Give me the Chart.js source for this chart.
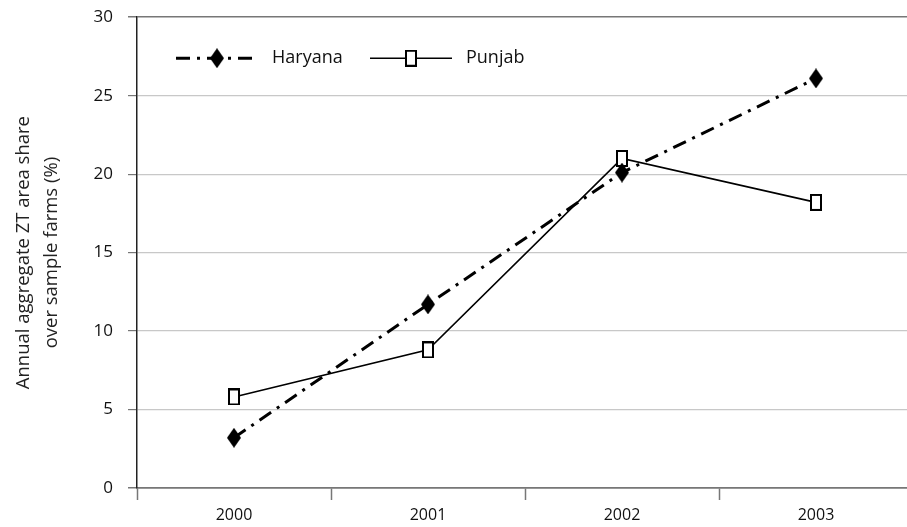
<!DOCTYPE html>
<html>
<head>
<meta charset="utf-8">
<script src="https://cdn.jsdelivr.net/npm/chart.js@4.4.1/dist/chart.umd.min.js"></script>
<style>
  html, body { margin: 0; padding: 0; background: #fff; overflow: hidden; }
  #wrap { width: 920px; height: 535px; margin-top: -8px; }
</style>
</head>
<body>
<div id="wrap"><canvas id="ztChart" width="920" height="535"></canvas></div>
<script>
// data
const years = ['2000', '2001', '2002', '2003'];
const haryana = [3.2, 11.7, 20.1, 26.1];
const punjab = [5.8, 8.8, 21.0, 18.2];
const yTicks = [0, 5, 10, 15, 20, 25, 30];

const FONT = '"Open Sans", "Noto Sans", sans-serif';

// marker images
function makeDiamond(w, h) {
    const c = document.createElement('canvas');
    c.width = w; c.height = h;
    const g = c.getContext('2d');
    g.fillStyle = '#000';
    g.beginPath();
    g.moveTo(w / 2, 0);
    g.lineTo(w, h / 2);
    g.lineTo(w / 2, h);
    g.lineTo(0, h / 2);
    g.closePath();
    g.fill();
    return c;
}
function makeBox(w, h) {
    const c = document.createElement('canvas');
    c.width = w; c.height = h;
    const g = c.getContext('2d');
    g.fillStyle = '#fff';
    g.fillRect(0, 0, w, h);
    g.strokeStyle = '#000';
    g.lineWidth = 2;
    g.strokeRect(1, 1, w - 2, h - 2);
    return c;
}
const diamondImg = makeDiamond(14, 20);
const boxImg = makeBox(12, 17);

// legend drawn inside the plot, line sample with marker in the middle
const insideLegend = {
    id: 'insideLegend',
    afterDatasetsDraw(chart) {
        const ctx = chart.ctx;
        const y = chart.chartArea.top + 41;
        const items = [
            { x: 176, ds: chart.data.datasets[0], img: diamondImg },
            { x: 370, ds: chart.data.datasets[1], img: boxImg }
        ];
        ctx.save();
        items.forEach(it => {
            ctx.strokeStyle = '#000';
            ctx.lineWidth = it.ds.borderWidth;
            ctx.setLineDash(it.ds.borderDash || []);
            ctx.beginPath();
            ctx.moveTo(it.x, y);
            ctx.lineTo(it.x + 82, y);
            ctx.stroke();
            ctx.setLineDash([]);
            ctx.drawImage(it.img, it.x + 41 - it.img.width / 2, y - it.img.height / 2);
            ctx.fillStyle = '#111';
            ctx.font = '18px ' + FONT;
            ctx.textBaseline = 'middle';
            ctx.textAlign = 'left';
            ctx.fillText(it.ds.label, it.x + 96, y);
        });
        ctx.restore();
    }
};

const ctx = document.getElementById('ztChart').getContext('2d');
new Chart(ctx, {
    type: 'line',
    data: {
        labels: years,
        datasets: [
            {
                label: 'Haryana',
                data: haryana,
                borderColor: '#000',
                borderWidth: 3,
                borderDash: [14, 7, 3, 7],
                pointStyle: diamondImg,
                fill: false,
                tension: 0
            },
            {
                label: 'Punjab',
                data: punjab,
                borderColor: '#000',
                borderWidth: 1.6,
                pointStyle: boxImg,
                fill: false,
                tension: 0
            }
        ]
    },
    options: {
        responsive: false,
        animation: false,
        layout: { padding: { top: 16, right: 1, left: 10, bottom: 0 } },
        plugins: {
            legend: { display: false },
            tooltip: { enabled: false }
        },
        scales: {
            x: {
                offset: true,
                grid: {
                    offset: true,
                    drawOnChartArea: false,
                    tickLength: 12,
                    tickColor: '#777',
                    tickWidth: 1.5
                },
                border: { color: '#777', width: 1.5 },
                ticks: {
                    color: '#111',
                    font: { family: FONT, size: 16 },
                    padding: 6,
                    maxRotation: 0
                },
                afterFit(scale) { scale.height = 39; }
            },
            y: {
                min: 0,
                max: 30,
                afterBuildTicks(scale) {
                    scale.ticks = yTicks.map(v => ({ value: v }));
                },
                grid: {
                    color: c => (c.tick && (c.tick.value === 0 || c.tick.value === 30)) ? '#777' : '#c8c8c8',
                    lineWidth: c => (c.tick && (c.tick.value === 0 || c.tick.value === 30)) ? 1.5 : 1.2,
                    tickLength: 9,
                    tickColor: '#777'
                },
                border: { color: '#222', width: 1.5 },
                ticks: {
                    color: '#111',
                    font: { family: FONT, size: 17 },
                    padding: 15
                },
                title: {
                    display: true,
                    text: ['Annual aggregate ZT area share', 'over sample farms (%)'],
                    color: '#222',
                    font: { family: FONT, size: 18.5, lineHeight: 1.5 },
                    padding: { top: 0, bottom: 6 }
                },
                afterFit(scale) { scale.width = 127; }
            }
        }
    },
    plugins: [insideLegend]
});
</script>
</body>
</html>
